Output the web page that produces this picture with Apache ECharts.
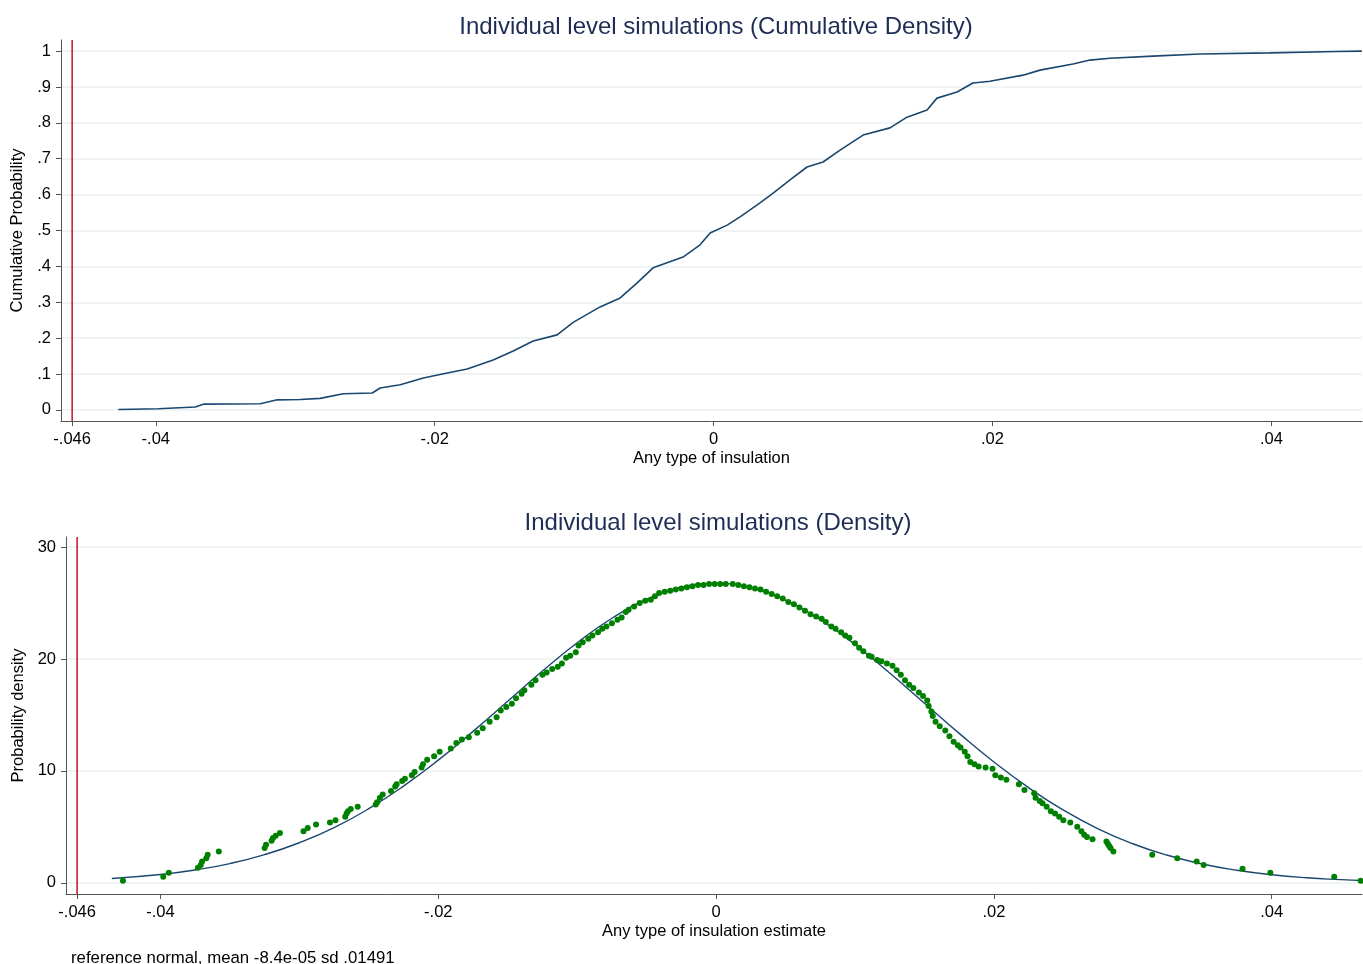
<!DOCTYPE html>
<html>
<head>
<meta charset="utf-8">
<title>Individual level simulations</title>
<script src="https://cdn.jsdelivr.net/npm/echarts@6/dist/echarts.min.js"></script>
<style>
  html, body { margin: 0; padding: 0; background: #fff; }
  #chart { width: 1363px; height: 964px; }
</style>
</head>
<body>
<div id="chart"></div>
<script>
// tick labels
var xTicks = [-0.046, -0.04, -0.02, 0, 0.02, 0.04];
var yTicksTop = [0, 0.1, 0.2, 0.3, 0.4, 0.5, 0.6, 0.7, 0.8, 0.9, 1];
var yTicksBottom = [0, 10, 20, 30];
var refLine = -0.046;

// axis ranges
var xRange = [-0.0468, 0.0465];
var yRangeTop = [-0.031, 1.031];
var yRangeBottom = [-1, 30.9];

// cumulative distribution
var cdfX = [-0.04269, -0.03982, -0.03717, -0.03660, -0.03251, -0.03129, -0.02964, -0.02821, -0.02656, -0.02448,
  -0.02391, -0.02247, -0.02082, -0.01910, -0.01767, -0.01581, -0.01437, -0.01294, -0.01122, -0.01007,
  -0.00814, -0.00670, -0.00548, -0.00434, -0.00219, -0.00097, -0.00025, 0.00097, 0.00190, 0.00333,
  0.00427, 0.00548, 0.00670, 0.00785, 0.00907, 0.01072, 0.01265, 0.01387, 0.01531, 0.01602,
  0.01746, 0.01860, 0.01982, 0.02219, 0.02341, 0.02577, 0.02699, 0.02842, 0.03151, 0.03487,
  0.03989, 0.04470, 0.04649];
var cdfY = [0.001, 0.003, 0.008, 0.016, 0.017, 0.028, 0.029, 0.032, 0.045, 0.047,
  0.061, 0.070, 0.089, 0.103, 0.114, 0.139, 0.164, 0.192, 0.209, 0.244,
  0.287, 0.312, 0.354, 0.396, 0.426, 0.460, 0.493, 0.515, 0.538, 0.577,
  0.604, 0.641, 0.677, 0.691, 0.724, 0.766, 0.786, 0.816, 0.836, 0.869,
  0.886, 0.911, 0.916, 0.933, 0.947, 0.964, 0.975, 0.980, 0.986, 0.992,
  0.995, 0.999, 1.000];

// empirical density points
var densX = [-0.0427, -0.0398, -0.0394, -0.0373, -0.0371, -0.0370, -0.0367, -0.0366, -0.0358,
  -0.0325, -0.0324, -0.0320, -0.0319, -0.0317, -0.0314, -0.0297, -0.0294, -0.0288, -0.0278, -0.0274,
  -0.0267, -0.0266, -0.0265, -0.0263, -0.0258, -0.0245, -0.0244, -0.0242, -0.0240, -0.0234,
  -0.0231, -0.0230, -0.0226, -0.0224, -0.0219, -0.0217, -0.0212, -0.0211, -0.0208, -0.0203,
  -0.0199, -0.0191, -0.0187, -0.0183, -0.0178, -0.0172, -0.0168, -0.0163, -0.0158, -0.0155,
  -0.0151, -0.0147, -0.0144, -0.0140, -0.0138, -0.0133, -0.0130, -0.0125,
  -0.0122, -0.0118, -0.0114, -0.0111, -0.0108, -0.0105, -0.0101, -0.0099, -0.0096, -0.0092,
  -0.0089, -0.0085, -0.0082, -0.0079, -0.0075, -0.0071, -0.0068, -0.0065, -0.0063, -0.0059,
  -0.0055, -0.0051, -0.0047, -0.0044, -0.0041, -0.0037, -0.0033, -0.0029, -0.0025, -0.0021,
  -0.0017, -0.0013, -0.0009, -0.0005, -0.0001, 0.0003, 0.0007, 0.0012, 0.0016, 0.0020,
  0.0024, 0.0028, 0.0032, 0.0036, 0.0040, 0.0044, 0.0048, 0.0052, 0.0056, 0.0060,
  0.0064, 0.0068, 0.0072, 0.0076, 0.0079, 0.0083, 0.0086, 0.0090, 0.0093, 0.0096,
  0.0100, 0.0103, 0.0106, 0.0110, 0.0112, 0.0116, 0.0119, 0.0123, 0.0127, 0.0130,
  0.0133, 0.0136, 0.0139, 0.0142, 0.0146, 0.0149, 0.0152, 0.0153, 0.0155, 0.0156,
  0.0158, 0.0161, 0.0165, 0.0168, 0.0171, 0.0174, 0.0176, 0.0179, 0.0181, 0.0183,
  0.0186, 0.0189, 0.0194, 0.0199, 0.0201, 0.0205, 0.0209, 0.0218, 0.0222, 0.0229,
  0.0230, 0.0233, 0.0235, 0.0238, 0.0241, 0.0244, 0.0247, 0.0250, 0.0255, 0.0260,
  0.0263, 0.0265, 0.0267, 0.0271, 0.0281, 0.0282, 0.0283, 0.0284, 0.0286, 0.0314,
  0.0332, 0.0346, 0.0351, 0.0379, 0.0399, 0.0445, 0.0464];
var densY = [0.18, 0.54, 0.89, 1.34, 1.6, 1.9, 2.2, 2.5, 2.8,
  3.1, 3.4, 3.75, 4.0, 4.2, 4.46, 4.6, 4.9, 5.2, 5.4, 5.6,
  5.9, 6.2, 6.4, 6.6, 6.8, 7.0, 7.2, 7.6, 7.9, 8.2,
  8.6, 8.8, 9.1, 9.3, 9.6, 9.9, 10.3, 10.6, 11.0, 11.3,
  11.7, 12.0, 12.5, 12.8, 13.0, 13.4, 13.8, 14.4, 14.8, 15.4,
  15.7, 16.0, 16.5, 16.9, 17.2, 17.7, 18.1, 18.6,
  18.8, 19.1, 19.3, 19.6, 20.1, 20.3, 20.6, 21.2, 21.5, 21.8,
  22.1, 22.4, 22.7, 22.9, 23.2, 23.5, 23.7, 24.2, 24.4, 24.7,
  25.0, 25.2, 25.3, 25.6, 25.9, 26.0, 26.1, 26.2, 26.3, 26.4,
  26.5, 26.6, 26.6, 26.7, 26.7, 26.7, 26.7, 26.7, 26.6, 26.5,
  26.4, 26.3, 26.2, 26.0, 25.8, 25.6, 25.4, 25.1, 24.9, 24.6,
  24.3, 24.0, 23.8, 23.6, 23.3, 22.9, 22.7, 22.4, 22.1, 21.9,
  21.4, 21.0, 20.7, 20.3, 20.2, 19.9, 19.8, 19.6, 19.4, 19.0,
  18.6, 18.1, 17.7, 17.4, 17.0, 16.7, 16.3, 15.8, 15.3, 14.9,
  14.4, 14.0, 13.6, 13.1, 12.6, 12.3, 12.1, 11.7, 11.3, 10.8,
  10.6, 10.4, 10.3, 10.2, 9.6, 9.4, 9.2, 8.8, 8.3, 8.0,
  7.6, 7.3, 7.1, 6.8, 6.4, 6.2, 5.9, 5.6, 5.4, 5.0,
  4.6, 4.3, 4.1, 3.9, 3.7, 3.5, 3.3, 3.1, 2.8, 2.5,
  2.2, 1.9, 1.6, 1.25, 0.9, 0.55, 0.18];

// reference normal curve
var normX = [-0.0435, -0.04, -0.0375, -0.035, -0.0325, -0.03, -0.0275, -0.025, -0.0225, -0.02,
  -0.0175, -0.015, -0.0125, -0.01, -0.0075, -0.005, -0.0025, 0, 0.0025, 0.005,
  0.0075, 0.01, 0.0125, 0.015, 0.0175, 0.02, 0.0225, 0.025, 0.0275, 0.03,
  0.0325, 0.035, 0.0375, 0.04, 0.0425, 0.045, 0.0465];
var normY = [0.39, 0.74, 1.15, 1.72, 2.52, 3.58, 4.93, 6.62, 8.64, 10.96,
  13.53, 16.22, 18.92, 21.45, 23.64, 25.34, 26.41, 26.76, 26.36, 25.25,
  23.51, 21.29, 18.74, 16.04, 13.35, 10.80, 8.50, 6.50, 4.83, 3.49,
  2.46, 1.68, 1.12, 0.72, 0.45, 0.28, 0.20];

function zip(a, b) { return a.map(function (v, i) { return [v, b[i]]; }); }
function stataNum(v) {
  var s = String(+v.toFixed(3));
  return s.replace(/^(-?)0\./, '$1.');
}

var myChart = echarts.init(document.getElementById('chart'));
var fontFam = '"Liberation Sans", Arial, sans-serif';
var navy = '#1a476f';
var axisCol = '#555';
var red = '#c8102e';

function xAxisCfg(gridIndex, name) {
  return {
    type: 'value', gridIndex: gridIndex, min: xRange[0], max: xRange[1],
    name: name, nameLocation: 'middle', nameGap: 29,
    nameTextStyle: { color: '#000', fontSize: 16.5, fontFamily: fontFam },
    axisLine: { show: true, onZero: false, lineStyle: { color: axisCol, width: 1 } },
    axisTick: { show: true, length: 5, customValues: xTicks, lineStyle: { color: axisCol } },
    axisLabel: { customValues: xTicks, formatter: stataNum, color: '#000', fontSize: 16.5, fontFamily: fontFam, margin: 10 },
    splitLine: { show: false }
  };
}

function yAxisCfg(gridIndex, name, range, ticks, gap) {
  return {
    type: 'value', gridIndex: gridIndex, min: range[0], max: range[1],
    name: name, nameLocation: 'middle', nameGap: gap,
    nameTextStyle: { color: '#000', fontSize: 16.5, fontFamily: fontFam },
    axisLine: { show: true, onZero: false, lineStyle: { color: axisCol } },
    axisTick: { show: true, length: 5, customValues: ticks, lineStyle: { color: axisCol } },
    axisLabel: { customValues: ticks, formatter: stataNum, color: '#000', fontSize: 16.5, fontFamily: fontFam, margin: 10 },
    splitLine: { show: true, lineStyle: { color: '#eaf0f2', width: 1.5 } }
  };
}

myChart.setOption({
  animation: false,
  backgroundColor: '#fff',
  title: [
    { text: 'Individual level simulations (Cumulative Density)', left: 711, textAlign: 'center', top: 10,
      textStyle: { color: '#1e2d55', fontSize: 24, fontWeight: 'normal', fontFamily: fontFam } },
    { text: 'Individual level simulations (Density)', left: 713, textAlign: 'center', top: 506,
      textStyle: { color: '#1e2d55', fontSize: 24, fontWeight: 'normal', fontFamily: fontFam } },
    { text: 'reference normal, mean -8.4e-05 sd .01491', left: 66, top: 945,
      textStyle: { color: '#000', fontSize: 16.8, fontWeight: 'normal', fontFamily: fontFam } }
  ],
  grid: [
    { left: 61, right: 1, top: 40, height: 381 },
    { left: 66, right: 1, top: 537, height: 357 }
  ],
  xAxis: [
    xAxisCfg(0, 'Any type of insulation'),
    xAxisCfg(1, 'Any type of insulation estimate')
  ],
  yAxis: [
    yAxisCfg(0, 'Cumulative Probability', yRangeTop, yTicksTop, 33),
    yAxisCfg(1, 'Probability density', yRangeBottom, yTicksBottom, 37)
  ],
  series: [
    {
      // red reference line, top panel
      type: 'line', xAxisIndex: 0, yAxisIndex: 0,
      data: [[refLine, yRangeTop[0]], [refLine, yRangeTop[1]]],
      showSymbol: false, silent: true, lineStyle: { color: red, width: 1.5 }, z: 2
    },
    {
      type: 'line', xAxisIndex: 0, yAxisIndex: 0, data: zip(cdfX, cdfY),
      showSymbol: false, lineStyle: { color: navy, width: 1.6 }, z: 3
    },
    {
      // red reference line, bottom panel
      type: 'line', xAxisIndex: 1, yAxisIndex: 1,
      data: [[refLine, yRangeBottom[0]], [refLine, yRangeBottom[1]]],
      showSymbol: false, silent: true, lineStyle: { color: red, width: 1.5 }, z: 2
    },
    {
      type: 'line', xAxisIndex: 1, yAxisIndex: 1, data: zip(normX, normY),
      showSymbol: false, smooth: true, lineStyle: { color: navy, width: 1.4 }, z: 3
    },
    {
      type: 'scatter', xAxisIndex: 1, yAxisIndex: 1, data: zip(densX, densY),
      symbolSize: 6, itemStyle: { color: '#008000', opacity: 1 }, z: 4
    }
  ]
});
</script>
</body>
</html>
